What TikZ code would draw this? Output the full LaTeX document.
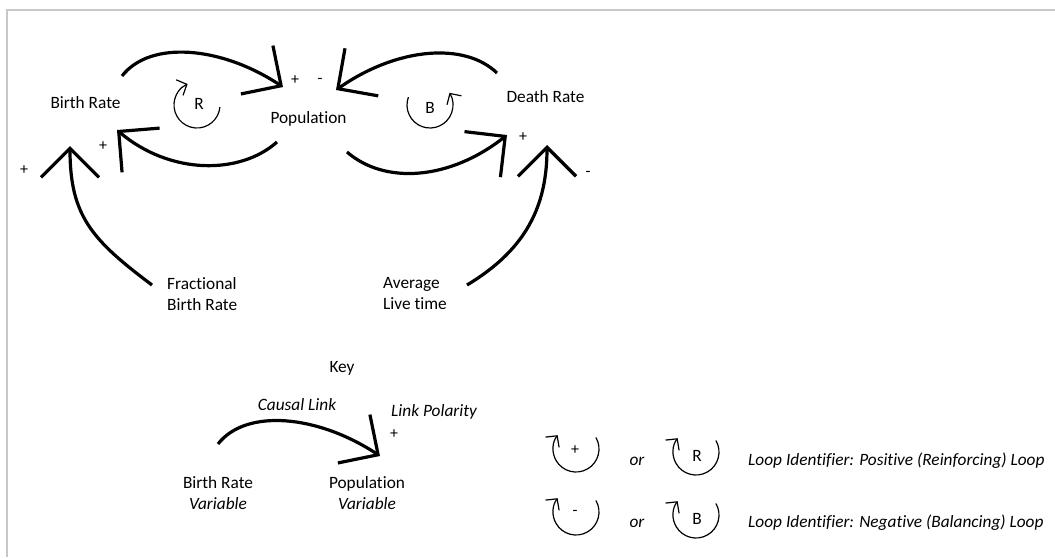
\documentclass[tikz,border=0pt]{standalone}
\usepackage{fontspec}
\setmainfont{Carlito}[Ligatures=NoCommon]
\usetikzlibrary{arrows.meta}
\definecolor{framegray}{RGB}{200,200,200}
\begin{document}
\begin{tikzpicture}[x=1pt,y=-1pt,
  lbl/.style={font=\fontsize{17.3}{21}\selectfont, inner sep=0pt},
  itl/.style={font=\fontsize{17.3}{21}\selectfont\itshape, inner sep=0pt},
  sgn/.style={font=\fontsize{16}{19}\selectfont, inner sep=0pt},
  lpl/.style={font=\fontsize{17.3}{21}\selectfont, inner sep=0pt},
  link/.style={line width=3.2pt, -{Straight Barb[length=29pt,width=58pt]}},
  looparrow/.style={line width=1.2pt, -{Straight Barb[length=8pt,width=17pt]}},
  frameline/.style={draw=framegray, line width=2pt}
]
\useasboundingbox (0,0) rectangle (1055,557);
\draw[frameline] (6.7,557) -- (6.7,9.5) -- (1055,9.5);

% variables
\node[lbl, anchor=base] (br) at (85.5,108) {Birth Rate};
\node[lbl, anchor=base] (pop) at (308.5,123) {Population};
\node[lbl, anchor=base] (dr) at (545.5,102) {Death Rate};
\node[lbl, anchor=base west] (fbr) at (167,289) {\begin{tabular}[t]{@{}l@{}}Fractional\\Birth Rate\end{tabular}};
\node[lbl, anchor=base west] (alt) at (383,288) {\begin{tabular}[t]{@{}l@{}}Average\\Live time\end{tabular}};

% connector ends
\coordinate (a1s) at (122,76);  \coordinate (a1e) at (283,87);
\coordinate (a2s) at (277,142); \coordinate (a2e) at (117,130);
\coordinate (a3s) at (497,73);  \coordinate (a3e) at (336,90);
\coordinate (a4s) at (347,152); \coordinate (a4e) at (507,135);
\coordinate (a5s) at (152,285); \coordinate (a5e) at (70,146);
\coordinate (a6s) at (467,285); \coordinate (a6e) at (547,145);

\draw[link] (a1s) .. controls +(28,-36) and +(-62,-41) .. (a1e);
\draw[link] (a2s) .. controls +(-37,33) and +(53,45) .. (a2e);
\draw[link] (a3s) .. controls +(-32,-31) and +(61.5,-43) .. (a3e);
\draw[link] (a4s) .. controls +(38,33) and +(-57,45) .. (a4e);
\draw[link] (a5s) .. controls +(-60,-45) and +(0,70) .. (a5e);
\draw[link] (a6s) .. controls +(60,-36) and +(0,60) .. (a6e);

% polarities
\node[sgn] (p1) at (295,80) {+};
\node[sgn] (m1) at (320,81) {-};
\node[sgn] (p2) at (103,146) {+};
\node[sgn] (p3) at (24,170) {+};
\node[sgn] (p4) at (523,137) {+};
\node[sgn] (m2) at (588,174) {-};

% loops
\coordinate (rc) at (197,105);
\draw[looparrow] (rc) ++(5:23) arc[start angle=5, end angle=246, radius=23];
\node[lpl] (rl) at (199,104) {R};
\coordinate (bc) at (430,105);
\draw[looparrow] (bc) ++(200:23) arc[start angle=200, end angle=-32, radius=23];
\node[lpl] (bl) at (430,108) {B};

% key
\node[lbl, anchor=base] (key) at (342,372) {Key};
\node[itl, anchor=base] (cl) at (297,410) {Causal Link};
\node[itl, anchor=base west] (lp) at (391,416) {Link Polarity};
\node[sgn] (kp) at (394,434) {+};
\coordinate (ks) at (218,444); \coordinate (ke) at (380,456);
\draw[link] (ks) .. controls +(28,-36) and +(-62,-41) .. (ke);
\node[lbl, anchor=base] (kbr) at (218,488) {\begin{tabular}[t]{@{}c@{}}Birth Rate\\\itshape Variable\end{tabular}};
\node[lbl, anchor=base] (kpop) at (367,488) {\begin{tabular}[t]{@{}c@{}}Population\\\itshape Variable\end{tabular}};

% loop identifiers
\coordinate (i1) at (576,449);
\draw[looparrow] (i1) ++(-30:23) arc[start angle=-30, end angle=217, radius=23];
\node[sgn] (i1l) at (575,450) {+};
\node[itl, anchor=base] (or1) at (637,465) {or};
\coordinate (i2) at (696,452);
\draw[looparrow] (i2) ++(-30:23) arc[start angle=-30, end angle=217, radius=23];
\node[lpl] (i2l) at (697,456) {R};
\node[itl, anchor=base west] (t1) at (748,465) {Loop Identifier: Positive (Reinforcing) Loop};

\coordinate (i3) at (576,512);
\draw[looparrow] (i3) ++(-30:23) arc[start angle=-30, end angle=217, radius=23];
\node[sgn] (i3l) at (575,513) {-};
\node[itl, anchor=base] (or2) at (637,527) {or};
\coordinate (i4) at (696,515);
\draw[looparrow] (i4) ++(-30:23) arc[start angle=-30, end angle=217, radius=23];
\node[lpl] (i4l) at (697,519) {B};
\node[itl, anchor=base west] (t2) at (748,527) {Loop Identifier: Negative (Balancing) Loop};
\end{tikzpicture}
\end{document}
